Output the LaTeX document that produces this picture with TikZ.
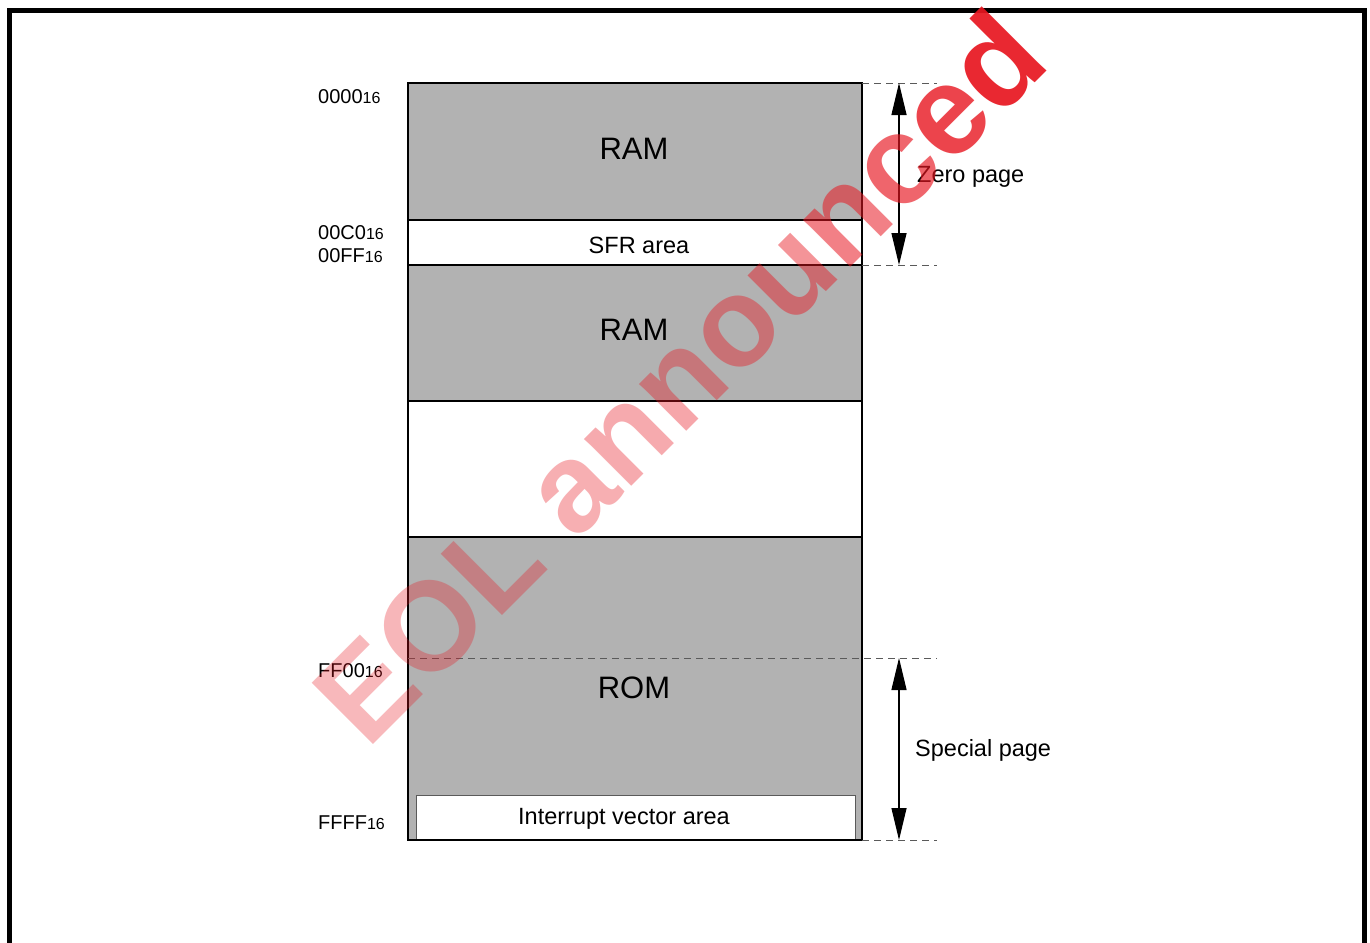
\documentclass[tikz,border=0pt]{standalone}
\usepackage{fontspec}
\setmainfont{Liberation Sans}
\usetikzlibrary{arrows.meta}
\definecolor{memgray}{RGB}{178,178,178}
\definecolor{dashgray}{RGB}{90,90,90}
\definecolor{wmred}{RGB}{232,22,32}
\newcommand{\addrtxt}[2]{{\fontsize{20}{24}\selectfont #1}{\fontsize{16}{18}\selectfont #2}}
\begin{document}
\begin{tikzpicture}[x=1pt,y=-1pt,
  region/.style={draw=black, line width=1.2pt},
  big/.style={font=\fontsize{31}{36}\selectfont, anchor=base, inner sep=0pt},
  small/.style={font=\fontsize{23.5}{28}\selectfont, anchor=base, inner sep=0pt},
  addrlbl/.style={anchor=base west, inner sep=0pt},
  guide/.style={draw=dashgray, line width=1pt, dash pattern=on 6.5pt off 5.5pt},
  span/.style={line width=1.2pt, {Triangle[length=32pt,width=15pt]}-{Triangle[length=32pt,width=15pt]}},
  wmark/.style={rotate=45, anchor=base west, inner sep=0pt, text=wmred, text opacity=#1, font=\bfseries\fontsize{126}{130}\selectfont}
]
\useasboundingbox (0,0) rectangle (1370,942);
\fill[white] (0,0) rectangle (1370,942);
% outer frame (open at the bottom)
\draw[line width=5.5pt] (9.5,980) -- (9.5,10.3) -- (1364.5,10.3) -- (1364.5,980);

% memory regions
\filldraw[fill=memgray, region] (408,83) rectangle (862,220);
\filldraw[fill=white, region] (408,220) rectangle (862,265);
\filldraw[fill=memgray, region] (408,265) rectangle (862,401);
\filldraw[fill=white, region] (408,401) rectangle (862,537);
\filldraw[fill=memgray, region] (408,537) rectangle (862,840);
\filldraw[fill=white, draw=dashgray, line width=1pt] (416,795) rectangle (855,840);
\draw[line width=2.2pt] (408,83) rectangle (862,840);

% guide coordinates
\coordinate (g0l) at (862,83);   \coordinate (g0r) at (937,83);
\coordinate (g1l) at (862,265);  \coordinate (g1r) at (937,265);
\coordinate (g2l) at (408,658);  \coordinate (g2r) at (937,658);
\coordinate (g3l) at (862,840);  \coordinate (g3r) at (937,840);
\draw[guide] (g0l) -- (g0r);
\draw[guide] (g1l) -- (g1r);
\draw[guide] (g2l) -- (g2r);
\draw[guide] (g3l) -- (g3r);

\coordinate (zt) at (899,83);  \coordinate (zb) at (899,265);
\coordinate (st) at (899,658); \coordinate (sb) at (899,840);
\draw[span] (zt) -- (zb);
\draw[span] (st) -- (sb);

% region labels
\node[big] (ram1) at (634,159) {RAM};
\node[small] (sfr) at (639,253) {SFR area};
\node[big] (ram2) at (634,340) {RAM};
\node[big] (rom) at (634,698) {ROM};
\node[small] (iva) at (624,824) {Interrupt vector area};
\node[small, anchor=base west] (zp) at (917,182) {Zero page};
\node[small, anchor=base west] (sp) at (915,756) {Special page};

% addresses
\node[addrlbl] (a0) at (318,103) {\addrtxt{0000}{16}};
\node[addrlbl] (a1) at (318,239) {\addrtxt{00C0}{16}};
\node[addrlbl] (a2) at (318,262) {\addrtxt{00FF}{16}};
\node[addrlbl] (a3) at (318,677) {\addrtxt{FF00}{16}};
\node[addrlbl] (a4) at (318,829) {\addrtxt{FFFF}{16}};

% watermark, letter by letter with growing opacity
\node[wmark=0.30] (w1) at (367,751) {E};
\node[wmark=0.31] (w2) at (w1.base east) {O};
\node[wmark=0.32] (w3) at (w2.base east) {L};
\node[wmark=0.34] (w4) at (w3.base east) {\hspace*{0.278em}a};
\node[wmark=0.36] (w5) at (w4.base east) {n};
\node[wmark=0.38] (w6) at (w5.base east) {n};
\node[wmark=0.41] (w7) at (w6.base east) {o};
\node[wmark=0.46] (w8) at (w7.base east) {u};
\node[wmark=0.54] (w9) at (w8.base east) {n};
\node[wmark=0.66] (w10) at (w9.base east) {c};
\node[wmark=0.80] (w11) at (w10.base east) {e};
\node[wmark=0.92] (w12) at (w11.base east) {d};
\end{tikzpicture}
\end{document}
